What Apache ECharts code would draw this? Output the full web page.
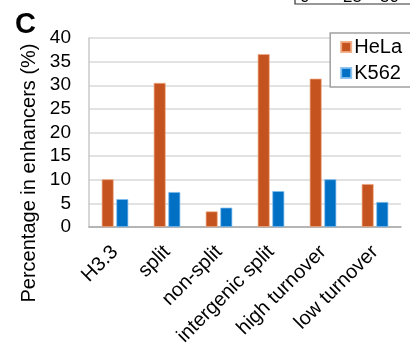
<!DOCTYPE html>
<html>
<head>
<meta charset="utf-8">
<script src="https://cdn.jsdelivr.net/npm/echarts@6/dist/echarts.min.js"></script>
<style>
  html, body { margin: 0; padding: 0; background: #fff; }
  #chart { width: 410px; height: 357px; }
</style>
</head>
<body>
<div id="chart"></div>
<script>
// Enhancer categories and the share of enhancers (%) in each cell line
const categories = ['H3.3', 'split', 'non-split', 'intergenic split', 'high turnover', 'low turnover'];
const helaValues = [10.1, 30.5, 3.3, 36.6, 31.4, 9.1];
const k562Values = [5.9, 7.4, 4.1, 7.6, 10.1, 5.3];
const yTicks = { min: 0, max: 40, interval: 5 };
const topAxisLabels = ['0', '25', '50'];
const yTitle = 'Percentage in enhancers (%)';

const FONT = 'Liberation Sans, Arial, sans-serif';
const chart = echarts.init(document.getElementById('chart'), null, { renderer: 'canvas' });

chart.setOption({
  animation: false,
  backgroundColor: '#ffffff',
  textStyle: { fontFamily: FONT },
  grid: { left: 89, right: 9, top: 38, bottom: 130 },
  legend: {
    right: -12, top: 33,
    orient: 'vertical',
    itemWidth: 10, itemHeight: 10, itemGap: 6,
    padding: [4, 20, 4, 10],
    borderColor: '#a0a0a0', borderWidth: 1.5,
    backgroundColor: '#ffffff',
    textStyle: { fontSize: 20, color: '#000', fontFamily: FONT, padding: [0, 0, 0, -2] },
    icon: 'rect',
    data: ['HeLa', 'K562']
  },
  xAxis: {
    type: 'category',
    data: categories,
    axisLine: { lineStyle: { color: '#a6a6a6', width: 1.5 } },
    axisTick: { show: false },
    axisLabel: { rotate: 45, fontSize: 20, color: '#000', margin: 22, interval: 0, fontFamily: FONT }
  },
  yAxis: {
    type: 'value',
    min: yTicks.min, max: yTicks.max, interval: yTicks.interval,
    axisLine: { show: true, lineStyle: { color: '#c8c8c8', width: 1.5 } },
    axisTick: { show: false },
    splitLine: { lineStyle: { color: '#d9d9d9', width: 1.5 } },
    axisLabel: { fontSize: 19, color: '#000', margin: 18, fontFamily: FONT }
  },
  series: [
    {
      name: 'HeLa', type: 'bar', data: helaValues,
      barWidth: 12, barGap: '22%',
      itemStyle: { color: '#c5531f', borderColor: 'rgba(240,170,130,0.9)', borderWidth: 0.8 }
    },
    {
      name: 'K562', type: 'bar', data: k562Values,
      barWidth: 12,
      itemStyle: { color: '#0070c4', borderColor: 'rgba(130,190,240,0.9)', borderWidth: 0.8 }
    }
  ],
  graphic: [
    // panel letter
    { type: 'text', left: 15, top: 10, style: { text: 'C', font: 'bold 29px ' + FONT, fill: '#000' } },
    // value-axis title, placed a little below the plot's vertical centre
    { type: 'text', x: 29, y: 173, rotation: Math.PI / 2,
      style: { text: yTitle, font: '20px ' + FONT, fill: '#000', align: 'center', verticalAlign: 'middle' } },
    // lower edge of the neighbouring panel's axis box
    { type: 'rect', shape: { x: 295, y: -30, width: 130, height: 34 },
      style: { fill: 'none', stroke: '#333', lineWidth: 1.2 } },
    { type: 'text', x: 300, y: -11, style: { text: topAxisLabels[0], font: '17px ' + FONT, fill: '#000' } },
    { type: 'text', x: 343, y: -11, style: { text: topAxisLabels[1], font: '17px ' + FONT, fill: '#000' } },
    { type: 'text', x: 380, y: -11, style: { text: topAxisLabels[2], font: '17px ' + FONT, fill: '#000' } }
  ]
});
</script>
</body>
</html>
